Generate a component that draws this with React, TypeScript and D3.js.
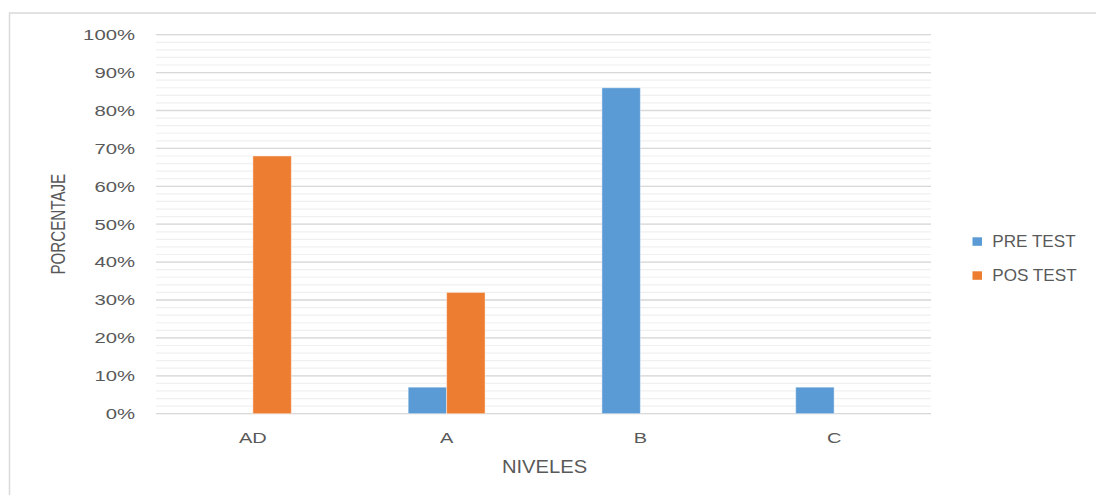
import React from "react";
import * as d3 from "d3";

const categories = ["AD", "A", "B", "C"];
const seriesNames = ["PRE TEST", "POS TEST"];
const preTest = [0, 0.07, 0.86, 0.07];
const posTest = [0.68, 0.32, 0, 0];
const seriesColors = ["#5B9BD5", "#ED7D31"];
const majorTicks = [0, 0.1, 0.2, 0.3, 0.4, 0.5, 0.6, 0.7, 0.8, 0.9, 1.0];
const minorTicks = d3.range(0, 51).map((i) => i * 0.02);

const W = 1096;
const H = 495;
const plot = { left: 156, right: 931, top: 34.7, bottom: 413.7 };
const textColor = "#595959";
const font = "'Liberation Sans', Arial, sans-serif";

export default function App() {
  const x = d3
    .scaleBand<string>()
    .domain(categories)
    .range([plot.left, plot.right])
    .paddingInner(0.603)
    .paddingOuter(0.3015);
  const inner = d3
    .scaleBand<string>()
    .domain(seriesNames)
    .range([0, x.bandwidth()]);
  const y = d3.scaleLinear().domain([0, 1]).range([plot.bottom, plot.top]);
  const fmt = d3.format(".0%");
  const series = [preTest, posTest];

  return (
    <svg
      width={W}
      height={H}
      style={{ position: "absolute", left: 0, top: 0, background: "#fff" }}
      fontFamily={font}
    >
      <rect x={0} y={0} width={W} height={H} fill="#fff" />
      <rect
        x={9.5}
        y={13}
        width={1300}
        height={700}
        fill="none"
        stroke="#d9d9d9"
        strokeWidth={1.5}
      />
      {/* minor gridlines */}
      {minorTicks.map((t, i) => (
        <line
          key={"mn" + i}
          x1={plot.left}
          x2={plot.right}
          y1={y(t)}
          y2={y(t)}
          stroke="#f0f0f0"
          strokeWidth={1.2}
        />
      ))}
      {/* major gridlines */}
      {majorTicks.map((t, i) => (
        <line
          key={"mj" + i}
          x1={plot.left}
          x2={plot.right}
          y1={y(t)}
          y2={y(t)}
          stroke="#d9d9d9"
          strokeWidth={1.3}
        />
      ))}
      {/* bars */}
      {series.map((vals, si) =>
        categories.map((c, ci) =>
          vals[ci] > 0 ? (
            <rect
              key={`b${si}-${ci}`}
              x={(x(c) as number) + (inner(seriesNames[si]) as number)}
              y={y(vals[ci])}
              width={inner.bandwidth()}
              height={y(0) - y(vals[ci])}
              fill={seriesColors[si]}
              stroke="#ffffff"
              strokeOpacity={0.45}
              strokeWidth={1}
            />
          ) : null
        )
      )}
      {/* y tick labels */}
      {majorTicks.map((t, i) => (
        <text
          key={"yt" + i}
          transform={`translate(135,${y(t) + 5.3}) scale(1.4,1)`}
          textAnchor="end"
          fontSize={14.5}
          fill={textColor}
        >
          {fmt(t)}
        </text>
      ))}
      {/* x tick labels */}
      {categories.map((c) => (
        <text
          key={"xt" + c}
          transform={`translate(${(x(c) as number) + x.bandwidth() / 2},443.3) scale(1.35,1)`}
          textAnchor="middle"
          fontSize={14.8}
          fill={textColor}
        >
          {c}
        </text>
      ))}
      {/* axis titles */}
      <text
        transform={`translate(544.5,473.3) scale(1.14,1)`}
        textAnchor="middle"
        fontSize={17.7}
        fill={textColor}
      >
        NIVELES
      </text>
      <text
        transform={`translate(65,${(plot.top + plot.bottom) / 2}) rotate(-90) scale(1.01,1.3)`}
        textAnchor="middle"
        fontSize={15}
        fill={textColor}
      >
        PORCENTAJE
      </text>
      {/* legend */}
      {seriesNames.map((s, i) => (
        <g key={"lg" + s}>
          <rect
            x={972.5}
            y={237.3 + i * 34}
            width={9.5}
            height={8.5}
            fill={seriesColors[i]}
          />
          <text
            transform={`translate(992.3,${246.7 + i * 34.3}) scale(1.05,1)`}
            fontSize={16.3}
            fill={textColor}
          >
            {s}
          </text>
        </g>
      ))}
    </svg>
  );
}
